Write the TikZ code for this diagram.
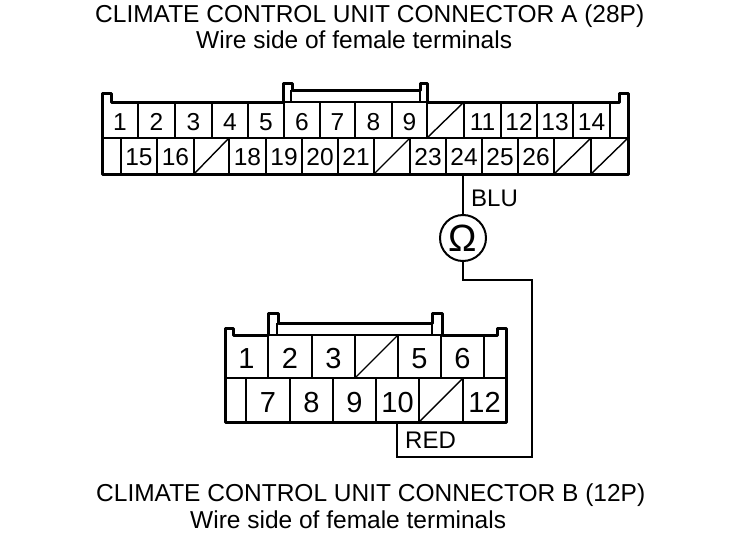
\documentclass[tikz,border=0pt]{standalone}
\usepackage{fontspec}
\setmainfont{Liberation Sans}
\usetikzlibrary{positioning, calc}
\tikzset{
    outline/.style = {line width=3pt, line join=round},
    cellline/.style = {line width=2pt},
    slash/.style = {line width=1.4pt},
    wire/.style = {line width=2pt, line join=miter},
    thinline/.style = {line width=1.3pt},
    pin_a/.style = {inner sep=0pt, anchor=base, font=\fontsize{24.5}{24.5}\selectfont},
    pin_b/.style = {inner sep=0pt, anchor=base, font=\fontsize{29}{29}\selectfont},
    title/.style = {inner sep=0pt, anchor=base west, font=\fontsize{24.5}{26}\selectfont},
    colour_tag/.style = {inner sep=0pt, anchor=base west, font=\fontsize{24}{26}\selectfont},
    meter/.style = {circle, draw, line width=2pt, minimum size=46pt, inner sep=0pt, font=\fontsize{38}{38}\selectfont},
}
\begin{document}
\begin{tikzpicture}[x=1pt,y=-1pt]
        \useasboundingbox (0,0) rectangle (752,538);
        \node [title] (title_a) at (95,22) {CLIMATE CONTROL UNIT CONNECTOR A (28P)};
        \node [title] (side_a) at (196,48) {Wire side of female terminals};
        \node [title] (title_b) at (96,501) {CLIMATE CONTROL UNIT CONNECTOR B (12P)};
        \node [title] (side_b) at (190,528) {Wire side of female terminals};
        % connector A
        \draw [outline] (102,174) -- (102,93) -- (111,93) -- (111,102) -- (283,102) -- (283,83) -- (292,83) -- (292,90)
            -- (420,90) -- (420,83) -- (427,83) -- (427,102) -- (619,102) -- (619,93) -- (628,93) -- (628,174) -- cycle;
        \draw [thinline] (291,90) -- (291,102) (420,90) -- (420,102) (283,102) -- (427,102);
        \draw [cellline] (102,138) -- (628,138);
        \foreach \x in {138,175,212,248,284,320,355,392,427,464,501,537,573,610}
            \draw [cellline] (\x,102) -- (\x,138);
        \foreach \x in {121,157,194,229,266,302,338,374,410,446,482,518,554,591}
            \draw [cellline] (\x,138) -- (\x,174);
        \foreach \l/\r/\t in {102/138/1,138/175/2,175/212/3,212/248/4,248/284/5,284/320/6,320/355/7,355/392/8,392/427/9,
                464/501/11,501/537/12,537/573/13,573/610/14}
            \node [pin_a] (a\t) at ({(\l+\r)/2},130) {\t};
        \foreach \l/\r/\t in {121/157/15,157/194/16,229/266/18,266/302/19,302/338/20,338/374/21,
                410/446/23,446/482/24,482/518/25,518/554/26}
            \node [pin_a] (a\t) at ({(\l+\r)/2},165) {\t};
        \draw [slash] (427,138) -- (464,102);
        \foreach \l/\r in {194/229,374/410,554/591,591/628}
            \draw [slash] (\l,174) -- (\r,138);
        % connector B
        \draw [outline] (225,422) -- (225,328) -- (233,328) -- (233,335) -- (268,335) -- (268,313) -- (278,313) -- (278,323)
            -- (432,323) -- (432,313) -- (442,313) -- (442,335) -- (497,335) -- (497,328) -- (506,328) -- (506,422) -- cycle;
        \draw [thinline] (277,323) -- (277,335) (432,323) -- (432,335) (268,335) -- (442,335);
        \draw [cellline] (225,378) -- (506,378);
        \foreach \x in {268,312,355,398,441,484}
            \draw [cellline] (\x,335) -- (\x,378);
        \foreach \x in {246,290,333,376,419,463}
            \draw [cellline] (\x,378) -- (\x,422);
        \foreach \l/\r/\t in {225/268/1,268/312/2,312/355/3,398/441/5,441/484/6}
            \node [pin_b] (b\t) at ({(\l+\r)/2},368) {\t};
        \foreach \l/\r/\t in {246/290/7,290/333/8,333/376/9,376/419/10,463/506/12}
            \node [pin_b] (b\t) at ({(\l+\r)/2},412) {\t};
        \draw [slash] (355,378) -- (398,335);
        \draw [slash] (419,422) -- (463,378);
        % wire and meter
        \node [meter] (ohm) at (463,238) {Ω};
        \coordinate (pin24) at (463,174);
        \coordinate (bend_top) at (463,280);
        \coordinate (bend_right) at (532,280);
        \coordinate (bend_low) at (532,457);
        \coordinate (bend_left) at (397,457);
        \coordinate (pin10) at (397,422);
        \draw [wire] (pin24) -- (ohm);
        \draw [wire] (ohm) -- (bend_top) -- (bend_right) -- (bend_low) -- (bend_left) -- (pin10);
        \node [colour_tag] (blu) at (471,206) {BLU};
        \node [colour_tag] (red) at (405,448) {RED};
\end{tikzpicture}
\end{document}
